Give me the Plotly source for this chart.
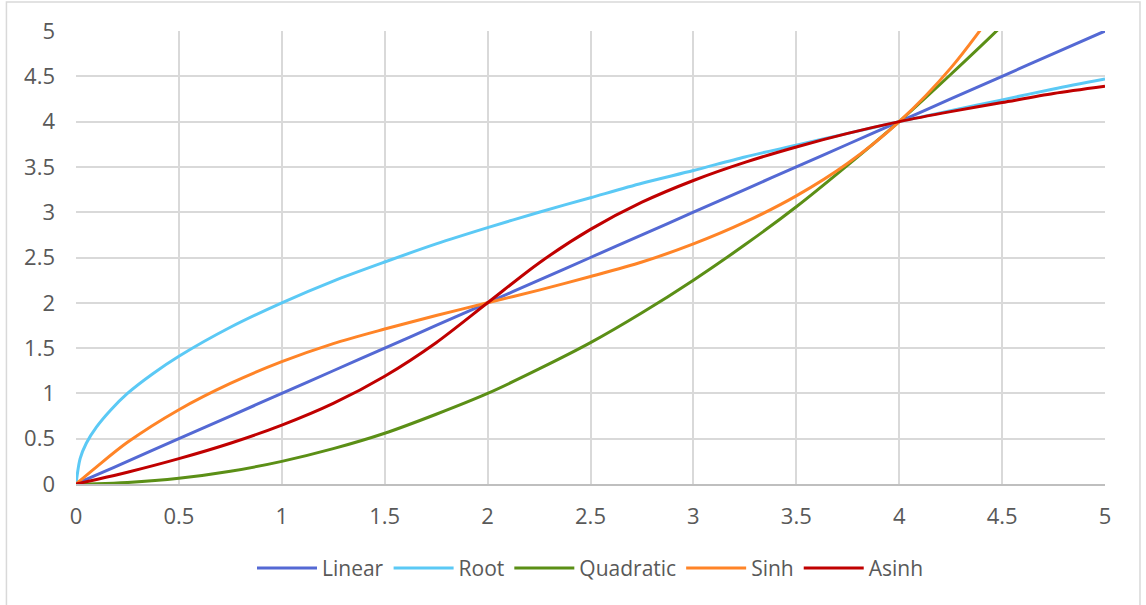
import plotly.graph_objects as go

# Sample positions along the x axis
x_vals = [0, 0.1, 0.25, 0.5, 0.75, 1, 1.25, 1.5, 1.75, 2, 2.25, 2.5, 2.75,
          3, 3.25, 3.5, 3.75, 4, 4.25, 4.5, 4.75, 5]

# Root needs a denser start because it rises steeply from zero
root_x = [0, 0.02, 0.05, 0.1, 0.17, 0.25, 0.375, 0.5, 0.75, 1, 1.25, 1.5,
          1.75, 2, 2.25, 2.5, 2.75, 3, 3.25, 3.5, 3.75, 4, 4.25, 4.5, 4.75, 5]

linear_y = [0, 0.1, 0.25, 0.5, 0.75, 1, 1.25, 1.5, 1.75, 2, 2.25, 2.5, 2.75,
            3, 3.25, 3.5, 3.75, 4, 4.25, 4.5, 4.75, 5]
root_y = [0, 0.28, 0.45, 0.63, 0.82, 1.0, 1.22, 1.41, 1.73, 2.0, 2.24, 2.45,
          2.65, 2.83, 3.0, 3.16, 3.32, 3.46, 3.61, 3.74, 3.87, 4.0, 4.12,
          4.24, 4.36, 4.47]
quadratic_y = [0, 0.0025, 0.016, 0.0625, 0.14, 0.25, 0.39, 0.56, 0.77, 1.0,
               1.27, 1.56, 1.89, 2.25, 2.64, 3.06, 3.52, 4.0, 4.52, 5.06,
               5.64, 6.25]
sinh_y = [0, 0.19, 0.46, 0.82, 1.11, 1.35, 1.55, 1.71, 1.86, 2.0, 2.14, 2.29,
          2.45, 2.65, 2.89, 3.18, 3.54, 4.0, 4.59, 5.35, 6.31, 7.5]
asinh_y = [0, 0.05, 0.13, 0.28, 0.45, 0.65, 0.89, 1.19, 1.56, 2.0, 2.44, 2.81,
           3.11, 3.35, 3.55, 3.72, 3.87, 4.0, 4.11, 4.21, 4.31, 4.39]

tick_vals = [0, 0.5, 1, 1.5, 2, 2.5, 3, 3.5, 4, 4.5, 5]
tick_text = ["0", "0.5", "1", "1.5", "2", "2.5", "3", "3.5", "4", "4.5", "5"]

series = [
    ("Linear", x_vals, linear_y, "#5469D4"),
    ("Root", root_x, root_y, "#5BC9F5"),
    ("Quadratic", x_vals, quadratic_y, "#5B8F16"),
    ("Sinh", x_vals, sinh_y, "#FF8427"),
    ("Asinh", x_vals, asinh_y, "#C00000"),
]

fig = go.Figure()
for name, xs, ys, color in series:
    fig.add_trace(go.Scatter(
        x=xs, y=ys, name=name, mode="lines",
        line=dict(color=color, width=3, shape="spline", smoothing=0.8),
    ))

font_family = "Open Sans, Noto Sans, sans-serif"
tick_font = dict(family=font_family, size=22, color="#595959")

fig.update_layout(
    width=1146, height=605,
    margin=dict(l=76, r=41, t=31, b=121),
    paper_bgcolor="white", plot_bgcolor="white",
    font=dict(family=font_family, size=22, color="#595959"),
    showlegend=True,
    legend=dict(orientation="h", x=0.5, xanchor="center", y=-0.186,
                yanchor="middle", font=dict(family=font_family, size=21,
                                            color="#595959"),
                itemwidth=60, traceorder="normal"),
    xaxis=dict(range=[0, 5], tickvals=tick_vals, ticktext=tick_text,
               tickfont=tick_font,
               showgrid=True, gridcolor="#D9D9D9", gridwidth=1.5,
               zeroline=False, showline=True, linecolor="#BFBFBF",
               linewidth=1.5, ticks="", ticklabelstandoff=12),
    yaxis=dict(range=[0, 5], tickvals=tick_vals, ticktext=tick_text,
               tickfont=tick_font,
               showgrid=True, gridcolor="#D9D9D9", gridwidth=1.5,
               zeroline=False, showline=False, ticks="",
               ticklabelstandoff=20),
)

# Light frame around the whole chart area
fig.add_shape(type="rect", xref="paper", yref="paper",
              x0=-0.0676, x1=1.034, y0=-0.3, y1=1.064,
              line=dict(color="#D9D9D9", width=1.5), layer="below")

fig.write_html("out.html")
